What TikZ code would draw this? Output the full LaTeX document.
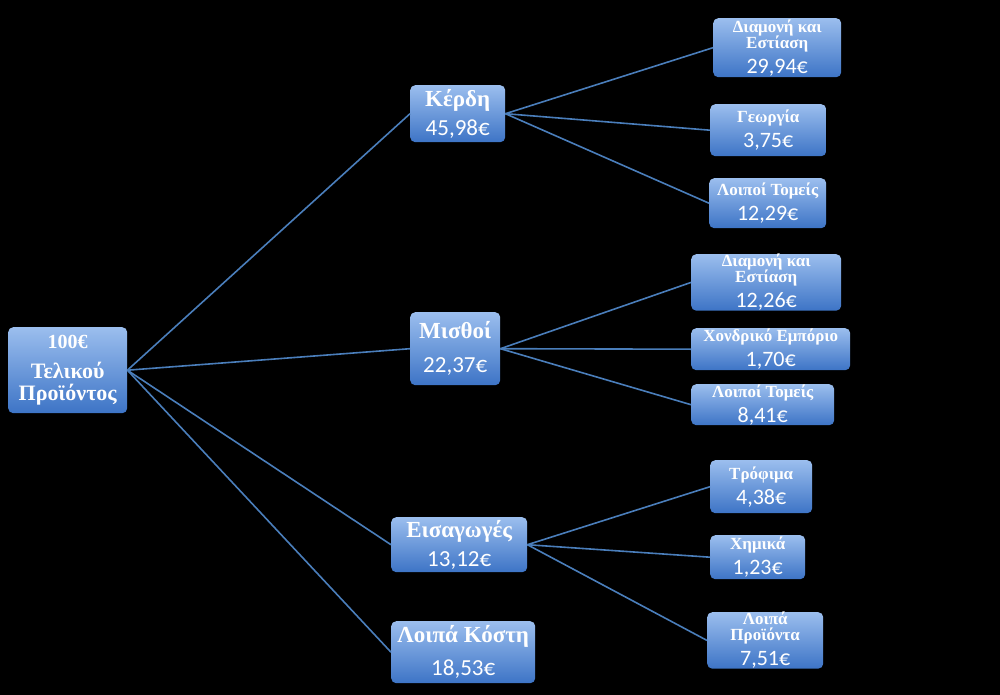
\documentclass[tikz,border=0pt]{standalone}
\usepackage{fontspec}
\setmainfont{Liberation Serif}
\newfontfamily\numfont{Carlito}
\definecolor{boxtop}{HTML}{9BBEEE}
\definecolor{boxbot}{HTML}{3D74C6}
\definecolor{linkc}{HTML}{4A7EBB}
\newcommand\ttlB[1]{{\fontsize{17}{25}\selectfont\bfseries #1}}
\newcommand\numv[1]{{\numfont #1}}
\begin{document}
\begin{tikzpicture}[x=1pt,y=-1pt,
 box/.style={anchor=north west, rounded corners=5pt, top color=boxtop, bottom color=boxbot, draw=none, text=white, inner sep=0pt, align=center},
 big/.style={box, font=\fontsize{23}{29}\selectfont},
 small/.style={box, font=\fontsize{22}{25}\selectfont},
 link/.style={draw=linkc, line width=1.6pt}]
\fill[black] (0,0) rectangle (1000,695);
\useasboundingbox (0,0) rectangle (1000,695);

\node[box, minimum width=119pt, minimum height=86pt, font=\bfseries\fontsize{22}{18}\selectfont] (root) at (8,327) {{\fontsize{20}{22}\selectfont 100€}\\[12pt]Τελικού\\[4pt]Προϊόντος};

\node[big, minimum width=95pt, minimum height=57pt] (k) at (410,85) {{\bfseries Κέρδη}\\\numv{45,98€}};
\node[big, minimum width=90pt, minimum height=73pt] (m) at (410,312) {{\bfseries Μισθοί}\\[5pt]\numv{22,37€}};
\node[big, minimum width=136pt, minimum height=55pt] (e) at (391,517) {{\bfseries Εισαγωγές}\\\numv{13,12€}};
\node[big, minimum width=144pt, minimum height=62pt] (l) at (391,621) {{\bfseries Λοιπά Κόστη}\\[4pt]\numv{18,53€}};

\node[small, minimum width=128pt, minimum height=59pt] (k1) at (713,18) {\ttlB{Διαμονή και}\\[-9pt]\ttlB{Εστίαση}\\\numv{29,94€}};
\node[small, minimum width=116pt, minimum height=52pt] (k2) at (710,104) {\ttlB{Γεωργία}\\\numv{3,75€}};
\node[small, minimum width=117pt, minimum height=50pt] (k3) at (709,178) {\ttlB{Λοιποί Τομείς}\\\numv{12,29€}};

\node[small, minimum width=150pt, minimum height=56pt] (m1) at (691,254) {\ttlB{Διαμονή και}\\[-9pt]\ttlB{Εστίαση}\\\numv{12,26€}};
\node[small, minimum width=159pt, minimum height=42pt] (m2) at (691,328) {\ttlB{Χονδρικό Εμπόριο}\\\numv{1,70€}};
\node[small, minimum width=143pt, minimum height=41pt] (m3) at (691,384) {\ttlB{Λοιποί Τομείς}\\\numv{8,41€}};

\node[small, minimum width=102pt, minimum height=53pt] (e1) at (710,460) {\ttlB{Τρόφιμα}\\\numv{4,38€}};
\node[small, minimum width=95pt, minimum height=44pt] (e2) at (710,535) {\ttlB{Χημικά}\\\numv{1,23€}};
\node[small, minimum width=116pt, minimum height=54pt] (e3) at (707,612) {\ttlB{Λοιπά}\\[-9pt]\ttlB{Προϊόντα}\\\numv{7,51€}};

\draw[link] (root.east) -- (k.west);
\draw[link] (root.east) -- (m.west);
\draw[link] (root.east) -- (e.west);
\draw[link] (root.east) -- (l.west);
\draw[link] (k.east) -- (k1.west);
\draw[link] (k.east) -- (k2.west);
\draw[link] (k.east) -- (k3.west);
\draw[link] (m.east) -- (m1.west);
\draw[link] (m.east) -- (m2.west);
\draw[link] (m.east) -- (m3.west);
\draw[link] (e.east) -- (e1.west);
\draw[link] (e.east) -- (e2.west);
\draw[link] (e.east) -- (e3.west);
\end{tikzpicture}
\end{document}
